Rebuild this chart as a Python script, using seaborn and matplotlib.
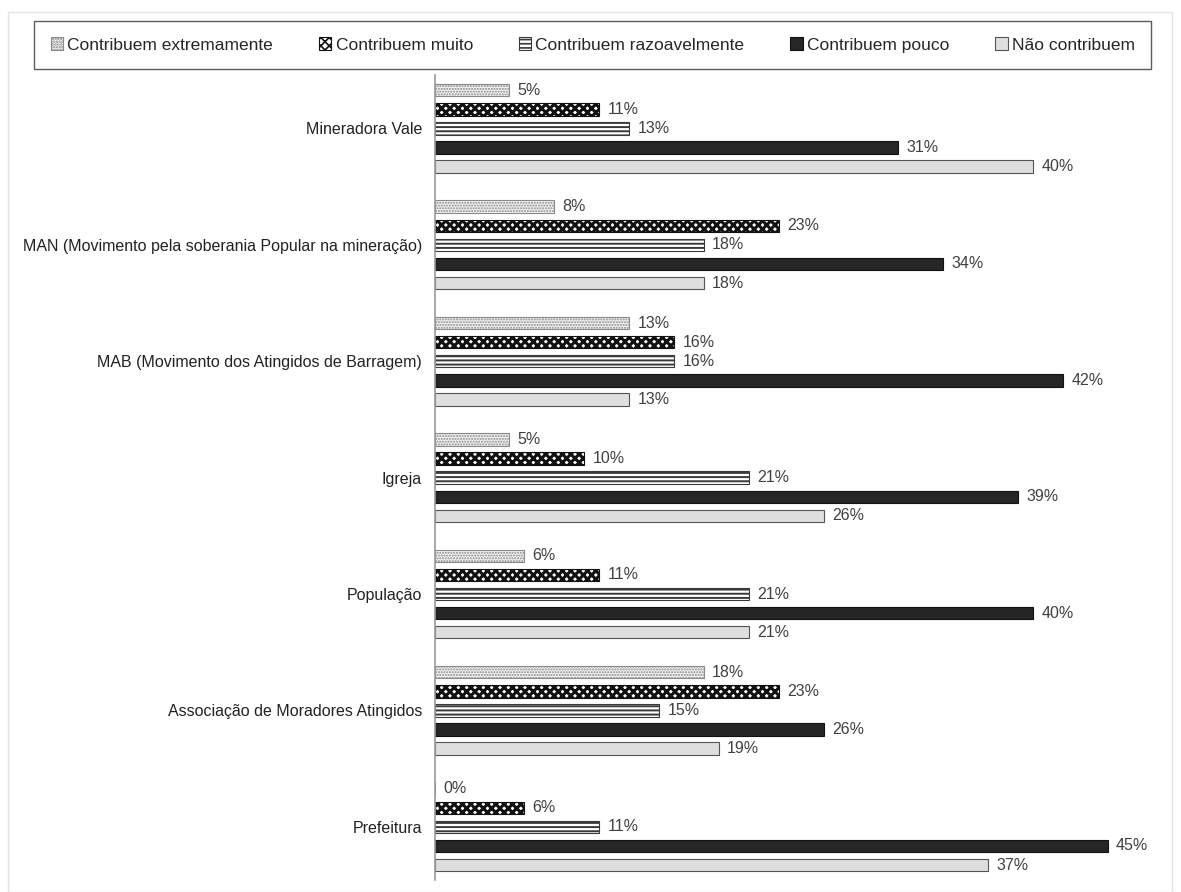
import pandas as pd
import numpy as np
import matplotlib
matplotlib.use("Agg")
import matplotlib.pyplot as plt
import seaborn as sns
from matplotlib.patches import Patch, Rectangle

# Data (percent)
orgs = ["Mineradora Vale",
        "MAN (Movimento pela soberania Popular na mineração)",
        "MAB (Movimento dos Atingidos de Barragem)",
        "Igreja",
        "População",
        "Associação de Moradores Atingidos",
        "Prefeitura"]
levels = ["Contribuem extremamente", "Contribuem muito", "Contribuem razoavelmente",
          "Contribuem pouco", "Não contribuem"]
extremamente = [5, 8, 13, 5, 6, 18, 0]
muito = [11, 23, 16, 10, 11, 23, 6]
razoavelmente = [13, 18, 16, 21, 21, 15, 11]
pouco = [31, 34, 42, 39, 40, 26, 45]
nao = [40, 18, 13, 26, 21, 19, 37]

series = [extremamente, muito, razoavelmente, pouco, nao]
df = pd.DataFrame({
    "org": np.tile(orgs, len(levels)),
    "nivel": np.repeat(levels, len(orgs)),
    "valor": np.concatenate(series),
})

sns.set_theme(style="white")
plt.rcParams["font.family"] = ["Liberation Sans", "DejaVu Sans"]
plt.rcParams["hatch.linewidth"] = 1.2

fig = plt.figure(figsize=(11.81, 8.92), dpi=100)
ax = fig.add_axes([0.368, 0.013, 0.608, 0.903])

sns.barplot(data=df, y="org", x="valor", hue="nivel", order=orgs, hue_order=levels,
            orient="h", width=0.82, gap=0.35, ax=ax, legend=False)

styles = [
    dict(face="#f2f2f2", edge="#8a8a8a", hatch="......", hlw=1.0),
    dict(face="white", edge="#111111", hatch="xxxx", hlw=2.2),
    dict(face="white", edge="#3a3a3a", hatch="----", hlw=1.4),
    dict(face="#262626", edge="#111111", hatch=None, hlw=1.0),
    dict(face="#dedede", edge="#555555", hatch=None, hlw=1.0),
]
for cont, st in zip(ax.containers, styles):
    for p in cont:
        p.set_facecolor(st["face"])
        p.set_edgecolor(st["edge"])
        p.set_linewidth(0.8)
        if st["hatch"]:
            p.set_hatch(st["hatch"])
            p._hatch_linewidth = st["hlw"]
    ax.bar_label(cont, labels=[f"{v:.0f}%" for v in cont.datavalues], padding=6,
                 fontsize=11.5, color="#404040")

ax.set_xlim(0, 48)
ax.set_ylim(6.46, -0.46)
ax.set_xlabel("")
ax.set_ylabel("")
ax.set_xticks([])
ax.tick_params(axis="y", length=0, pad=9, labelsize=11.5, labelcolor="#222222")
for s in ["top", "right", "bottom"]:
    ax.spines[s].set_visible(False)
ax.spines["left"].set_color("#9a9a9a")
ax.spines["left"].set_linewidth(1.2)

# Legend across the top
handles = []
for st in styles:
    h = Patch(facecolor=st["face"], edgecolor=st["edge"], hatch=st["hatch"], linewidth=0.8)
    h._hatch_linewidth = st["hlw"]
    handles.append(h)
leg = fig.legend(handles, levels, loc="center", bbox_to_anchor=(0.502, 0.9495),
                 ncol=5, fontsize=12.5, frameon=True, fancybox=False,
                 handlelength=0.7, handleheight=0.7, handletextpad=0.25,
                 columnspacing=2.65, borderpad=0.95, borderaxespad=0)
leg.get_frame().set_edgecolor("#333333")
leg.get_frame().set_linewidth(1.0)

# faint outer frame as in the source image
fig.patches.append(Rectangle((0.007, 0.0), 0.985, 0.986, transform=fig.transFigure,
                             fill=False, edgecolor="#e4e4e4", linewidth=1.0))

fig.savefig("out.png", dpi=100)
